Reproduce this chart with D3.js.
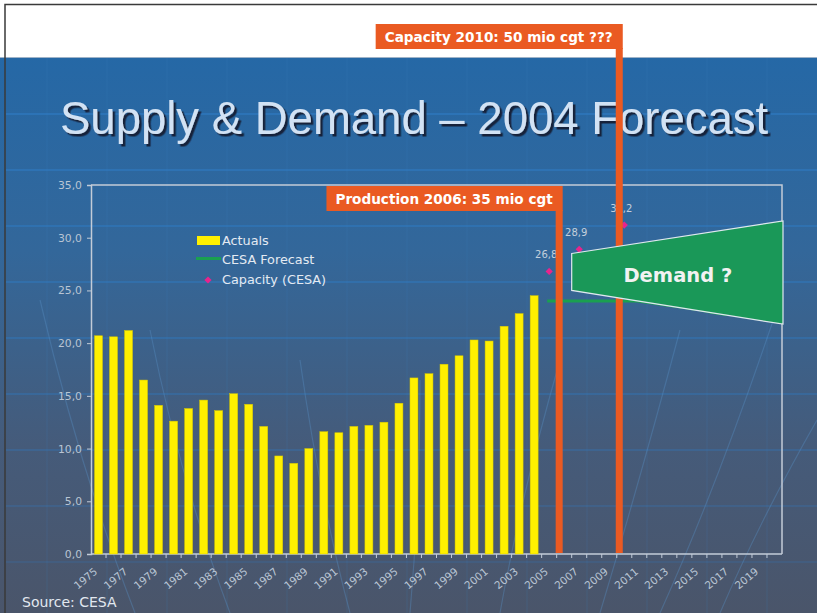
<!DOCTYPE html>
<meta charset="utf-8">
<script src="https://d3js.org/d3.v7.min.js"></script>
<style>
body { margin: 0; background: #fff; }
svg { display: block; }
</style>
<div id="slide"></div>
<script>
// categories on the x axis (one band per year)
var years = d3.range(1975, 2021);
var xTickLabels = d3.range(1975, 2021, 2);
var yTicks = [0, 5, 10, 15, 20, 25, 30, 35];

// actual production (mio cgt)
var actualYears = [1975, 1976, 1977, 1978, 1979, 1980, 1981, 1982, 1983, 1984,
  1985, 1986, 1987, 1988, 1989, 1990, 1991, 1992, 1993, 1994,
  1995, 1996, 1997, 1998, 1999, 2000, 2001, 2002, 2003, 2004];
var actualValues = [20.7, 20.6, 21.2, 16.5, 14.1, 12.6, 13.8, 14.6, 13.6, 15.2,
  14.2, 12.1, 9.3, 8.6, 10.0, 11.6, 11.5, 12.1, 12.2, 12.5,
  14.3, 16.7, 17.1, 18.0, 18.8, 20.3, 20.2, 21.6, 22.8, 24.5];

// CESA forecast line
var forecastYears = [2005, 2006, 2007, 2008, 2009, 2010, 2011, 2012, 2013, 2014, 2015, 2016, 2017];
var forecastValues = [24.0, 24.0, 24.0, 24.0, 24.0, 24.0, 24.0, 23.8, 23.6, 23.4, 23.2, 22.9, 22.7];

// capacity (CESA)
var capacityYears = [2005, 2007, 2010];
var capacityValues = [26.8, 28.9, 31.2];

var W = 817, H = 613;
var margin = {top: 185, right: 35, bottom: 59, left: 91};

var svg = d3.select("#slide").append("svg")
  .attr("width", W)
  .attr("height", H);

// background of the slide
var defs = svg.append("defs");
var grad = defs.append("linearGradient")
  .attr("id", "bg")
  .attr("x1", 0).attr("y1", 0).attr("x2", 0).attr("y2", 1);
grad.append("stop").attr("offset", "0%").attr("stop-color", "#2568a6");
grad.append("stop").attr("offset", "35%").attr("stop-color", "#33679a");
grad.append("stop").attr("offset", "70%").attr("stop-color", "#455b7a");
grad.append("stop").attr("offset", "100%").attr("stop-color", "#4a556a");

defs.append("filter").attr("id", "shadow")
  .attr("x", "-5%").attr("y", "-20%").attr("width", "110%").attr("height", "140%")
  .append("feDropShadow")
  .attr("dx", 2.5).attr("dy", 2.5).attr("stdDeviation", 0.6)
  .attr("flood-color", "#16243a").attr("flood-opacity", 1);

svg.append("rect").attr("width", W).attr("height", 57).attr("fill", "#fff");
svg.append("rect").attr("y", 57).attr("width", W).attr("height", H - 57).attr("fill", "url(#bg)");
svg.append("line").attr("x1", 0).attr("x2", W).attr("y1", 57.5).attr("y2", 57.5)
  .attr("stroke", "#9fb3c8").attr("stroke-width", 1);
svg.append("path")
  .attr("d", "M5,613 V4.5 H817")
  .attr("fill", "none").attr("stroke", "#3a3a3a").attr("stroke-width", 1.5);

// template texture: straight grid and a few globe curves
var deco = svg.append("g");
d3.range(114, 613, 56).forEach(function(yy, i) {
  deco.append("line").attr("x1", 6).attr("x2", W).attr("y1", yy).attr("y2", yy)
    .attr("stroke", "#2f7ac0").attr("stroke-width", 1.5)
    .attr("opacity", Math.max(0.25, 0.9 - i * 0.08));
});
d3.range(47, W, 60).forEach(function(xx) {
  deco.append("line").attr("x1", xx).attr("x2", xx).attr("y1", 58).attr("y2", H)
    .attr("stroke", "#3d80c0").attr("stroke-width", 1).attr("opacity", 0.18);
});
var curves = [
  "M40,300 Q80,470 135,613", "M150,330 Q180,480 230,613",
  "M300,360 Q320,500 350,613", "M420,380 Q420,500 410,613",
  "M560,360 Q520,500 500,613", "M680,330 Q640,480 600,613",
  "M780,300 Q720,480 660,613", "M817,420 Q760,520 720,613"
];
curves.forEach(function(c) {
  deco.append("path").attr("d", c).attr("fill", "none")
    .attr("stroke", "#5a92c8").attr("stroke-width", 1.2).attr("opacity", 0.35);
});

// title
svg.append("text")
  .attr("x", 60).attr("y", 134)
  .attr("font-family", "Liberation Sans, Arial, sans-serif")
  .attr("font-size", 45.5)
  .attr("fill", "#d2e2f4")
  .attr("filter", "url(#shadow)")
  .text("Supply & Demand \u2013 2004 Forecast");

// scales
var x = d3.scaleBand()
  .domain(years)
  .range([margin.left, W - margin.right])
  .paddingInner(0.47)
  .paddingOuter(0.235);

var y = d3.scaleLinear()
  .domain([0, 35])
  .range([H - margin.bottom, margin.top]);

var x0 = margin.left, x1 = W - margin.right;
var step = x.step();
function xc(yr) { return x(yr) + x.bandwidth() / 2; }
function xl(yr) { return margin.left + years.indexOf(yr) * step; }

// plot frame
svg.append("path")
  .attr("d", "M" + x0 + "," + y(35) + " H" + x1 + " V" + y(0))
  .attr("fill", "none").attr("stroke", "#c3ccd8").attr("stroke-width", 1.5);

// y axis
var yAxis = svg.append("g")
  .attr("transform", "translate(" + x0 + ",0)")
  .call(d3.axisLeft(y).tickValues(yTicks).tickSize(4).tickPadding(5)
    .tickFormat(function(d) { return d3.format(".1f")(d).replace(".", ","); }));
yAxis.select(".domain").attr("stroke", "#c3ccd8").attr("stroke-width", 1.5);
yAxis.selectAll(".tick line").attr("stroke", "#c3ccd8");
yAxis.selectAll("text")
  .attr("fill", "#b9c5d4")
  .attr("font-family", "DejaVu Sans, Verdana, sans-serif")
  .attr("font-size", 10.8);

// x axis: line, minor ticks at band boundaries, rotated labels
var xAxis = svg.append("g");
xAxis.append("line")
  .attr("x1", x0).attr("x2", x1).attr("y1", y(0)).attr("y2", y(0))
  .attr("stroke", "#c3ccd8").attr("stroke-width", 1.5);
xAxis.selectAll(".minor")
  .data(years.slice(1))
  .join("line")
  .attr("x1", function(d) { return xl(d); })
  .attr("x2", function(d) { return xl(d); })
  .attr("y1", y(0)).attr("y2", y(0) + 4)
  .attr("stroke", "#c3ccd8").attr("stroke-width", 1);
xAxis.selectAll(".lab")
  .data(xTickLabels)
  .join("text")
  .attr("transform", function(d) {
    return "translate(" + (xc(d) - 5) + "," + (y(0) + 13) + ") rotate(-40)";
  })
  .attr("text-anchor", "end")
  .attr("dy", "0.7em")
  .attr("fill", "#b9c5d4")
  .attr("font-family", "DejaVu Sans, Verdana, sans-serif")
  .attr("font-size", 10.5)
  .text(function(d) { return d; });

// bars
svg.append("g").selectAll("rect")
  .data(actualValues)
  .join("rect")
  .attr("x", function(d, i) { return x(actualYears[i]); })
  .attr("y", function(d) { return y(d); })
  .attr("width", x.bandwidth())
  .attr("height", function(d) { return y(0) - y(d); })
  .attr("fill", "#fff000")
  .attr("stroke", "#d8c800")
  .attr("stroke-width", 0.5);

// forecast line
svg.append("path")
  .datum(forecastValues)
  .attr("fill", "none")
  .attr("stroke", "#1aa050")
  .attr("stroke-width", 3)
  .attr("d", d3.line()
    .x(function(d, i) { return xc(forecastYears[i]) - 2; })
    .y(function(d) { return y(d); }));

// capacity points + labels
var diamond = d3.symbol(d3.symbolSquare, 26);
var cap = svg.append("g");
cap.selectAll("path")
  .data(capacityValues)
  .join("path")
  .attr("transform", function(d, i) {
    return "translate(" + xc(capacityYears[i]) + "," + y(d) + ") rotate(45)";
  })
  .attr("d", diamond)
  .attr("fill", "#e8248c");
cap.selectAll("text")
  .data(capacityValues)
  .join("text")
  .attr("x", function(d, i) { return xc(capacityYears[i]) - 3; })
  .attr("y", function(d) { return y(d) - 13; })
  .attr("text-anchor", "middle")
  .attr("fill", "#c3cfdc")
  .attr("font-family", "DejaVu Sans, Verdana, sans-serif")
  .attr("font-size", 10)
  .text(function(d) { return d3.format(".1f")(d).replace(".", ","); });

// legend
var lg = svg.append("g")
  .attr("font-family", "DejaVu Sans, Verdana, sans-serif")
  .attr("font-size", 12.8)
  .attr("fill", "#e4eaf2");
lg.append("rect").attr("x", 197).attr("y", 236).attr("width", 23).attr("height", 9).attr("fill", "#fff000");
lg.append("text").attr("x", 222).attr("y", 245).text("Actuals");
lg.append("line").attr("x1", 196).attr("x2", 221).attr("y1", 258.5).attr("y2", 258.5)
  .attr("stroke", "#1aa050").attr("stroke-width", 3);
lg.append("text").attr("x", 222).attr("y", 264).text("CESA Forecast");
lg.append("path").attr("transform", "translate(208,280) rotate(45)")
  .attr("d", diamond).attr("fill", "#e8248c");
lg.append("text").attr("x", 222).attr("y", 284).text("Capacity (CESA)");

// orange callouts (drawn under the demand shape)
var orange = "#ea5a22";
function callout(yr, boxTop, label) {
  var lx = xl(yr) - 1;        // line left edge
  var lw = 7;
  var g = svg.append("g");
  var t = g.append("text")
    .attr("font-family", "DejaVu Sans, Verdana, sans-serif")
    .attr("font-weight", "bold")
    .attr("font-size", 13.6)
    .attr("fill", "#fff")
    .text(label);
  var tw = t.node().getComputedTextLength();
  var bw = tw + 19, bh = 25;
  var bx = lx + lw - bw;
  g.insert("rect", "text")
    .attr("x", bx).attr("y", boxTop).attr("width", bw).attr("height", bh)
    .attr("fill", orange);
  t.attr("x", bx + 9).attr("y", boxTop + 17.5);
  g.insert("rect", "text")
    .attr("x", lx).attr("y", boxTop + bh - 1).attr("width", lw).attr("height", y(0) - boxTop - bh)
    .attr("fill", orange);
}
callout(2006, y(35) + 1, "Production 2006: 35 mio cgt");
callout(2010, 24, "Capacity 2010: 50 mio cgt ???");

// demand shape
var demand = [
  [xl(2007), 28.5], [x1 + 1, 31.6], [x1 + 1, 21.8], [xl(2007), 25.0]
];
svg.append("polygon")
  .attr("points", demand.map(function(p) { return p[0] + "," + y(p[1]); }).join(" "))
  .attr("fill", "#1a9858")
  .attr("stroke", "#dfe8ef")
  .attr("stroke-width", 1.2);
svg.append("text")
  .attr("x", (xl(2007) + x1) / 2 + 1)
  .attr("y", y(26.5) + 7)
  .attr("text-anchor", "middle")
  .attr("font-family", "DejaVu Sans, Verdana, sans-serif")
  .attr("font-weight", "bold")
  .attr("font-size", 19.5)
  .attr("fill", "#f2f2f2")
  .text("Demand ?");

// source
svg.append("text")
  .attr("x", 22).attr("y", 607)
  .attr("font-family", "DejaVu Sans, Verdana, sans-serif")
  .attr("font-size", 14)
  .attr("fill", "#e2e8f0")
  .text("Source: CESA");
</script>
